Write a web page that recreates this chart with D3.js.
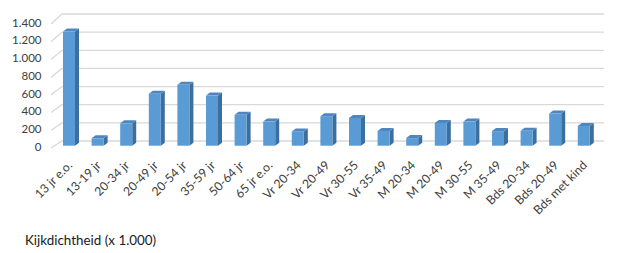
<!DOCTYPE html>
<html>
<head>
<meta charset="utf-8">
<script src="https://cdn.jsdelivr.net/npm/d3@7"></script>
<style>
  html, body { margin: 0; padding: 0; background: #fff; }
  svg { display: block; }
  text { font-family: Lato, "Open Sans", "Liberation Sans", sans-serif; }
</style>
</head>
<body>
<svg id="chart" width="619" height="253"></svg>
<script>
// Kijkdichtheid per doelgroep (x 1.000)
const categories = [
  "13 jr e.o.", "13-19 jr", "20-34 jr", "20-49 jr", "20-54 jr", "35-59 jr",
  "50-64 jr", "65 jr e.o.", "Vr 20-34", "Vr 20-49", "Vr 30-55", "Vr 35-49",
  "M 20-34", "M 20-49", "M 30-55", "M 35-49", "Bds 20-34", "Bds 20-49", "Bds met kind"
];
const values = [
  1275, 83, 250, 580, 680, 560,
  345, 270, 160, 330, 310, 165,
  85, 255, 270, 163, 166, 360, 220
];
const yTicks = [0, 200, 400, 600, 800, 1000, 1200, 1400];
const yTickLabels = ["0", "200", "400", "600", "800", "1.000", "1.200", "1.400"];
const title = "Kijkdichtheid (x 1.000)";

const svg = d3.select("#chart");

// 3D look: front plane (axis labels), back wall (gridlines), bar front faces
const yFront = d3.scaleLinear().domain([0, 1400]).range([148, 24]);
const yBack = d3.scaleLinear().domain([0, 1400]).range([141, 14]);
const yBar = d3.scaleLinear().domain([0, 1400]).range([145.7, 20.4]);

const x = d3.scaleBand()
  .domain(categories)
  .range([54.7, 598.1])
  .paddingInner(0.58)
  .paddingOuter(0.29);

const wallLeft = 62, wallRight = 604, stubLeft = 51;
const depthX = 4, depthY = 3;

// gridlines: short floor-side diagonal, then along the back wall
const grid = svg.append("g");
grid.selectAll("path.grid")
  .data(yTicks)
  .join("path")
  .attr("class", "grid")
  .attr("fill", "none")
  .attr("stroke", "#d9d9d9")
  .attr("stroke-width", 1.3)
  .attr("d", d => `M${stubLeft},${yFront(d)}L${wallLeft},${yBack(d)}L${wallRight},${yBack(d)}`);

// y axis labels
svg.append("g")
  .selectAll("text")
  .data(yTicks)
  .join("text")
  .attr("x", 41.5)
  .attr("y", d => yFront(d) - 1.3)
  .attr("dy", "0.35em")
  .attr("text-anchor", "end")
  .attr("font-size", 11.5)
  .attr("fill", "#404040")
  .text((d, i) => yTickLabels[i]);

// bars: side, top, front
const bars = svg.append("g")
  .selectAll("g")
  .data(categories.map((c, i) => ({ c, v: values[i] })))
  .join("g");

bars.append("path")
  .attr("fill", "#3d6f9e")
  .attr("d", d => {
    const x1 = x(d.c) + x.bandwidth(), yt = yBar(d.v), yb = yBar(0);
    return `M${x1},${yt}L${x1 + depthX},${yt - depthY}L${x1 + depthX},${yb - depthY}L${x1},${yb}Z`;
  });

bars.append("path")
  .attr("fill", "#4f86bd")
  .attr("d", d => {
    const x0 = x(d.c), x1 = x0 + x.bandwidth(), yt = yBar(d.v);
    return `M${x0},${yt}L${x0 + depthX},${yt - depthY}L${x1 + depthX},${yt - depthY}L${x1},${yt}Z`;
  });

bars.append("rect")
  .attr("x", d => x(d.c))
  .attr("y", d => yBar(d.v))
  .attr("width", x.bandwidth())
  .attr("height", d => yBar(0) - yBar(d.v))
  .attr("fill", "#5b9bd5");

// category labels, rotated
svg.append("g")
  .selectAll("text")
  .data(categories)
  .join("text")
  .attr("transform", d => `translate(${x(d) + x.bandwidth() / 2 + 1},${163}) rotate(-45)`)
  .attr("text-anchor", "end")
  .attr("dy", "0.35em")
  .attr("font-size", 12.2)
  .attr("fill", "#404040")
  .text(d => d);

svg.append("text")
  .attr("x", 25)
  .attr("y", 245)
  .attr("font-size", 13.4)
  .attr("fill", "#1a1a1a")
  .text(title);
</script>
</body>
</html>
